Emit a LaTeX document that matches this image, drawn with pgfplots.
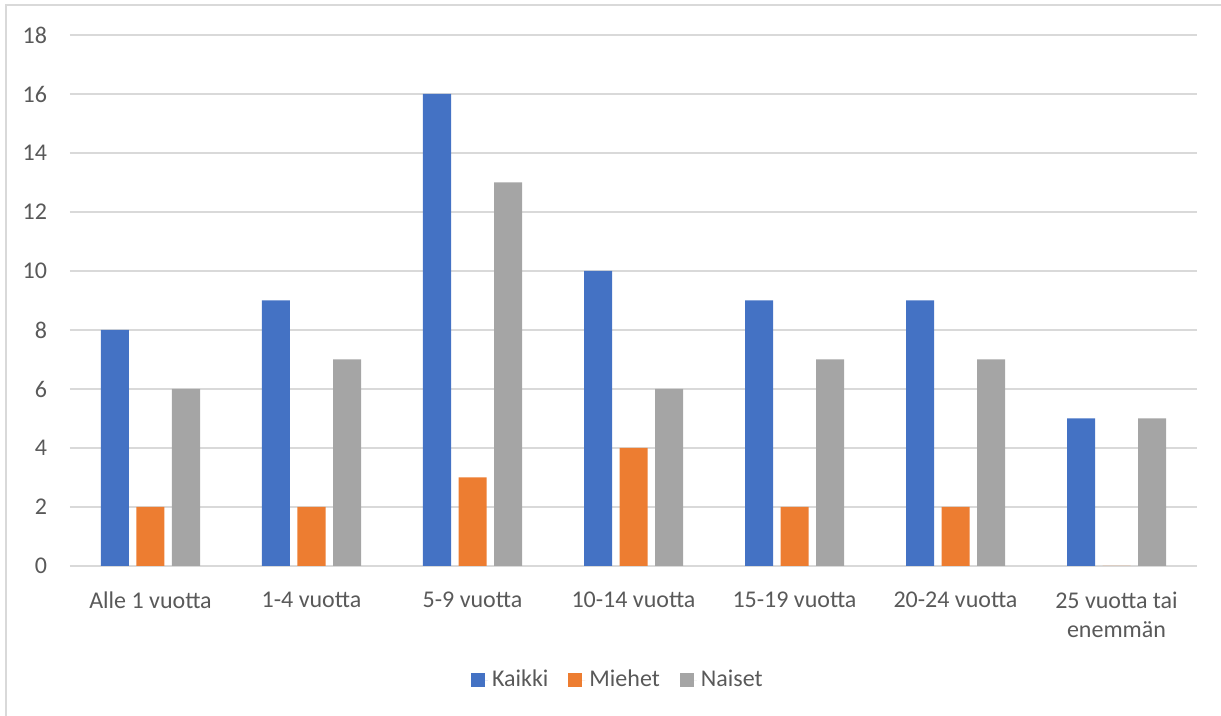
\documentclass[border=0pt]{standalone}
\usepackage{pgfplots}
\pgfplotsset{compat=1.18}
\usepackage{fontspec}
\setmainfont{Carlito}

\definecolor{kaikki}{HTML}{4472C4}
\definecolor{miehet}{HTML}{ED7D31}
\definecolor{naiset}{HTML}{A5A5A5}
\definecolor{gridgray}{HTML}{D9D9D9}
\definecolor{labelgray}{HTML}{595959}

\begin{document}
\begin{tikzpicture}[x=1pt,y=1pt]
  \useasboundingbox (0,0) rectangle (610.5,358);
  % chart area frame (top and left edges)
  \draw[line width=0.75pt, gridgray] (3,0) -- (3,355.5) -- (610.5,355.5);
  \begin{axis}[
    at={(35pt,75pt)}, anchor=south west,
    scale only axis,
    width=563.5pt, height=265.5pt,
    ybar=3.75pt, bar width=14pt,
    xmin=-0.5, xmax=6.5,
    ymin=0, ymax=18,
    ytick={0,2,...,18},
    xtick={0,...,6},
    xticklabels={Alle 1 vuotta, 1-4 vuotta, 5-9 vuotta, 10-14 vuotta, 15-19 vuotta, 20-24 vuotta, {25 vuotta tai\\enemmän}},
    axis line style={draw=none},
    tick style={draw=none},
    ymajorgrids,
    grid style={gridgray, line width=0.75pt},
    /pgf/number format/assume math mode=true,
    tick label style={font=\fontsize{12}{14.6}\selectfont, text=labelgray},
    yticklabel style={anchor=east, xshift=-8pt},
    xticklabel style={anchor=north, align=center, yshift=-5pt},
    legend columns=3,
    legend style={at={(0.487,-0.2147)}, anchor=center, draw=none, fill=none,
      font=\fontsize{12}{14.6}\selectfont, text=labelgray,
      /tikz/every even column/.append style={column sep=8pt},
      cells={anchor=west}},
    legend image code/.code={\fill[#1] (0pt,-3.5pt) rectangle (7pt,3.5pt); \path (0pt,0pt) -- (8.5pt,0pt);},
  ]
    \addplot[fill=kaikki, draw=none] coordinates {(0,8) (1,9) (2,16) (3,10) (4,9) (5,9) (6,5)};
    \addplot[fill=miehet, draw=none] coordinates {(0,2) (1,2) (2,3) (3,4) (4,2) (5,2) (6,0)};
    \addplot[fill=naiset, draw=none] coordinates {(0,6) (1,7) (2,13) (3,6) (4,7) (5,7) (6,5)};
    \legend{Kaikki, Miehet, Naiset}
  \end{axis}
\end{tikzpicture}
\end{document}
